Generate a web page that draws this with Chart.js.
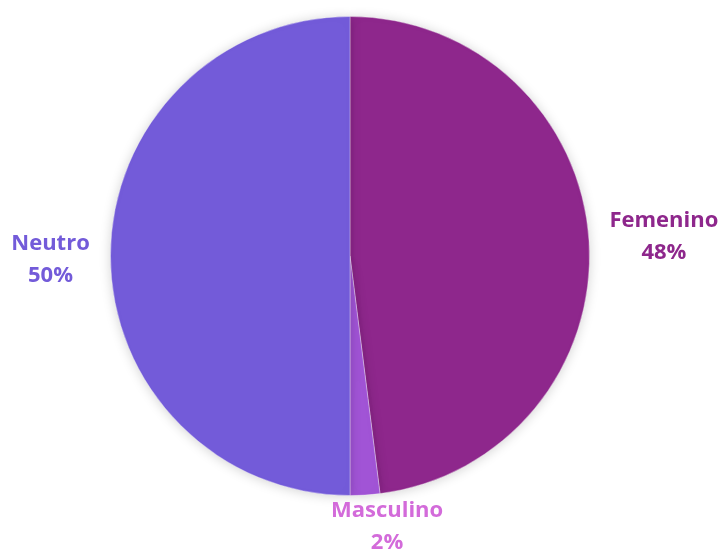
<!DOCTYPE html>
<html>
<head>
<meta charset="utf-8">
<script src="https://cdn.jsdelivr.net/npm/chart.js@4.4.0/dist/chart.umd.min.js"></script>
<style>
  html, body { margin: 0; padding: 0; background: #ffffff; }
  #wrap { width: 723px; height: 552px; }
</style>
</head>
<body>
<div id="wrap"><canvas id="c" width="723" height="552"></canvas></div>
<script>
// Gender distribution (percent)
const categories = ['Femenino', 'Masculino', 'Neutro'];
const shares = [48, 2, 50];
const sliceColors = ['#8E278C', '#A154D6', '#735BD9'];
const labelColors = ['#8E278C', '#D36BDA', '#735BD9'];

// label placement: extra distance beyond the rim and sideways nudge
const labelOffsets = [
  { radial: 75, dx: 0, dy: 0 },
  { radial: 32, dx: 20, dy: 0 },
  { radial: 60, dx: 0, dy: 4 }
];

const outsideLabels = {
  id: 'outsideLabels',
  afterDatasetsDraw(chart) {
    const ctx = chart.ctx;
    const meta = chart.getDatasetMeta(0);
    const total = shares.reduce((a, b) => a + b, 0);
    ctx.save();
    ctx.font = 'bold 22px "Open Sans", Lato, sans-serif';
    ctx.textAlign = 'center';
    ctx.textBaseline = 'middle';
    meta.data.forEach((arc, i) => {
      const p = arc.getProps(['x', 'y', 'startAngle', 'endAngle', 'outerRadius'], true);
      const mid = (p.startAngle + p.endAngle) / 2;
      const r = p.outerRadius + labelOffsets[i].radial;
      const x = p.x + Math.cos(mid) * r + labelOffsets[i].dx;
      const y = p.y + Math.sin(mid) * r + labelOffsets[i].dy;
      const pct = Math.round(shares[i] / total * 100) + '%';
      ctx.fillStyle = labelColors[i];
      ctx.fillText(categories[i], x, y - 16);
      ctx.fillText(pct, x, y + 16);
    });
    ctx.restore();
  }
};

const pieShadow = {
  id: 'pieShadow',
  beforeDatasetsDraw(chart) {
    const ctx = chart.ctx;
    ctx.save();
    ctx.shadowColor = 'rgba(0,0,0,0.18)';
    ctx.shadowBlur = 12;
    ctx.shadowOffsetY = 1;
  },
  afterDatasetsDraw(chart) {
    chart.ctx.restore();
  }
};

new Chart(document.getElementById('c'), {
  type: 'pie',
  data: {
    labels: categories,
    datasets: [{
      data: shares,
      backgroundColor: sliceColors,
      borderColor: 'rgba(255,255,255,0.35)',
      borderWidth: 1
    }]
  },
  options: {
    responsive: false,
    animation: false,
    layout: { padding: { top: 16, bottom: 56, left: 0, right: 23 } },
    plugins: {
      legend: { display: false },
      tooltip: { enabled: false }
    }
  },
  plugins: [pieShadow, outsideLabels]
});
</script>
</body>
</html>
